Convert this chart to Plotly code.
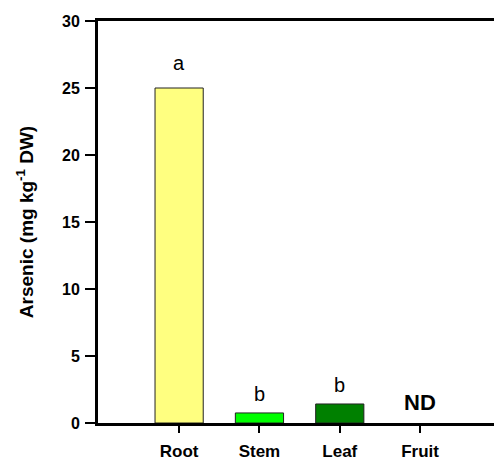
import plotly.graph_objects as go

categories = ["Root", "Stem", "Leaf", "Fruit"]
values = [25.0, 0.75, 1.42, 0.0]
letters = ["a", "b", "b", "ND"]
colors = ["#FFFF80", "#00FF00", "#008000", "#FFFFFF"]
y_ticks = [0, 5, 10, 15, 20, 25, 30]

x_pos = list(range(len(categories)))
FONT = "Liberation Sans, Arial"

fig = go.Figure()
fig.add_trace(go.Bar(
    x=x_pos, y=values, width=0.6,
    marker=dict(color=colors, line=dict(color="#222222", width=[1, 1, 1, 0])),
    showlegend=False,
))

for i, (v, t) in enumerate(zip(values, letters)):
    bold = t == "ND"
    fig.add_annotation(
        x=x_pos[i], y=v, text=f"<b>{t}</b>" if bold else t,
        showarrow=False, yanchor="bottom",
        yshift=(12 if i == 0 else 6) if not bold else 6,
        font=dict(family=FONT, size=22 if bold else 20, color="black"),
    )

fig.update_layout(
    width=494, height=459,
    margin=dict(l=98, r=0, t=21, b=36),
    paper_bgcolor="white", plot_bgcolor="white",
    font=dict(family=FONT, size=15, color="black"),
    xaxis=dict(
        range=[-1.01, 3.92], tickvals=x_pos,
        ticktext=[f"<b>{c}</b>" for c in categories],
        showline=True, linecolor="black", linewidth=3, mirror=True,
        ticks="outside", ticklen=7, tickwidth=2, tickcolor="black",
        ticklabelstandoff=4, automargin=False,
        showgrid=False, zeroline=False,
        tickfont=dict(family=FONT, size=17, color="black"),
    ),
    yaxis=dict(
        range=[0, 30], tickvals=y_ticks,
        ticktext=[f"<b>{t}</b>" for t in y_ticks],
        showline=True, linecolor="black", linewidth=3,
        ticks="outside", ticklen=10, tickwidth=2, tickcolor="black",
        ticklabelstandoff=2, automargin=False,
        showgrid=False, zeroline=False,
        tickfont=dict(family=FONT, size=16, color="black"),
        title=dict(text="<b>Arsenic (mg kg<sup>-1</sup> DW)</b>",
                   font=dict(family=FONT, size=19, color="black"),
                   standoff=24),
    ),
)

fig.write_html(
    "out.html",
    config={"responsive": False, "displayModeBar": False},
    post_script="document.body.style.margin='0';document.body.style.overflow='hidden';",
)
